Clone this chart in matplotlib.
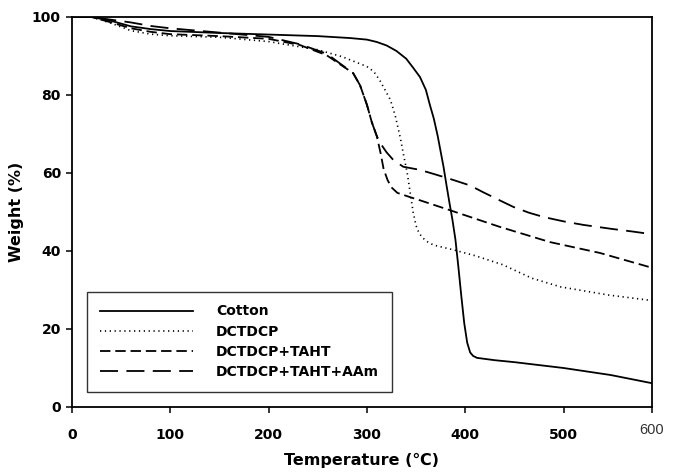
import matplotlib
matplotlib.use("Agg")
import matplotlib.pyplot as plt

plt.rcParams['lines.scale_dashes'] = False

# Data
cotton_T = [0, 20, 40, 60, 80, 100, 150, 200, 250, 283, 300, 310, 320, 330, 340, 347, 354, 360, 364, 368,
            372, 375, 378, 381, 384, 387, 390, 393, 396, 399, 402, 405, 408, 412, 430, 450, 500, 548, 590]
cotton_w = [100, 100, 99, 97.6, 96.9, 96.4, 95.9, 95.5, 95.1, 94.6, 94.2, 93.6, 92.7, 91.3, 89.3, 87, 84.6,
            81.3, 77.5, 74, 69.5, 65.5, 61.5, 56.8, 52.3, 48, 43, 36, 28.5, 21.5, 16.5, 14, 13.1, 12.6, 12,
            11.5, 10, 8.2, 6.1]

dctdcp_T = [0, 20, 40, 60, 80, 100, 150, 200, 250, 275, 300, 307, 313, 318, 324, 329, 334, 337, 341, 344,
            347, 350, 353, 357, 362, 368, 388, 410, 438, 468, 497, 546, 590]
dctdcp_w = [100, 100, 98.4, 96.5, 95.6, 95.2, 94.8, 93.7, 91.6, 89.8, 87.3, 86, 83.8, 81.5, 78.7, 74.5, 69,
            65, 60, 55, 50, 46.5, 44.6, 43.3, 42.3, 41.5, 40.3, 38.8, 36.5, 33, 30.8, 28.7, 27.3]

taht_T = [0, 20, 40, 60, 80, 100, 150, 200, 232, 259, 286, 293, 300, 305, 310, 314, 317, 321, 325, 331,
          344, 354, 384, 435, 486, 537, 590]
taht_w = [100, 100, 98.6, 97.1, 96.2, 95.6, 95.1, 94.4, 92.8, 90.2, 85.6, 82.5, 77.5, 73, 69.5, 65, 61,
          58.2, 56.3, 54.9, 53.8, 53, 50.5, 46.2, 42.3, 39.5, 35.7]

aam_T = [0, 20, 40, 60, 80, 100, 150, 200, 232, 259, 286, 293, 300, 305, 310, 314, 320, 327, 337, 354,
         370, 388, 405, 418, 435, 449, 465, 480, 500, 520, 548, 570, 590]
aam_w = [100, 100, 99.3, 98.6, 97.7, 97.1, 96, 94.9, 93, 90.6, 85.6, 82.5, 77.5, 73, 69.5, 67.5, 65.3,
         63.3, 61.6, 60.8, 59.6, 58.2, 56.8, 55.1, 53, 51.3, 49.8, 48.7, 47.6, 46.7, 45.7, 45, 44.3]

labels = ['Cotton', 'DCTDCP', 'DCTDCP+TAHT', 'DCTDCP+TAHT+AAm']
xticks = [0, 100, 200, 300, 400, 500]
xtick_labels = ['0', '100', '200', '300', '400', '500']
last_tick = 590
last_label = '600'
yticks = [0, 20, 40, 60, 80, 100]

fig = plt.figure(figsize=(6.79, 4.74), dpi=100)
ax = fig.add_axes([72/679, 1 - 407/474, 580/679, 390/474])

ax.plot(cotton_T, cotton_w, color='black', lw=1.3, linestyle='-', label=labels[0])
ax.plot(dctdcp_T, dctdcp_w, color='black', lw=1.2, linestyle=(0, (0.9, 2.6)), label=labels[1])
ax.plot(taht_T, taht_w, color='black', lw=1.3, linestyle=(0, (7.5, 3.5)), label=labels[2])
ax.plot(aam_T, aam_w, color='black', lw=1.3, linestyle=(0, (13, 6)), label=labels[3])

ax.set_xlim(0, last_tick)
ax.set_ylim(0, 100)
ax.set_xticks(xticks + [last_tick])
ax.set_xticklabels(xtick_labels + [''])
ax.set_yticks(yticks)
ax.set_yticklabels([str(t) for t in yticks])
ax.tick_params(direction='out', length=4, width=1.1, labelsize=10)
ax.tick_params(axis='x', pad=11)
ax.tick_params(axis='y', pad=4)
for lab in ax.get_xticklabels() + ax.get_yticklabels():
    lab.set_fontweight('bold')
for sp in ax.spines.values():
    sp.set_linewidth(1.3)

ax.text(last_tick, -4.0, last_label, ha='center', va='top', fontsize=10.5, color='#333333',
        family='Liberation Sans', clip_on=False)

ax.set_xlabel('Temperature (\u2103)', fontsize=11.5, fontweight='bold', labelpad=8)
ax.set_ylabel('Weight (%)', fontsize=11.5, fontweight='bold', labelpad=6)

leg = ax.legend(loc='lower left', bbox_to_anchor=(0.026, 0.0385), prop={'size': 10, 'weight': 'bold'},
                handlelength=6.7, handletextpad=1.66, labelspacing=0.45, borderpad=0.92,
                fancybox=False, framealpha=1, edgecolor='#333333', borderaxespad=0)
leg.get_frame().set_linewidth(1.0)

fig.savefig('out.png', dpi=100)
